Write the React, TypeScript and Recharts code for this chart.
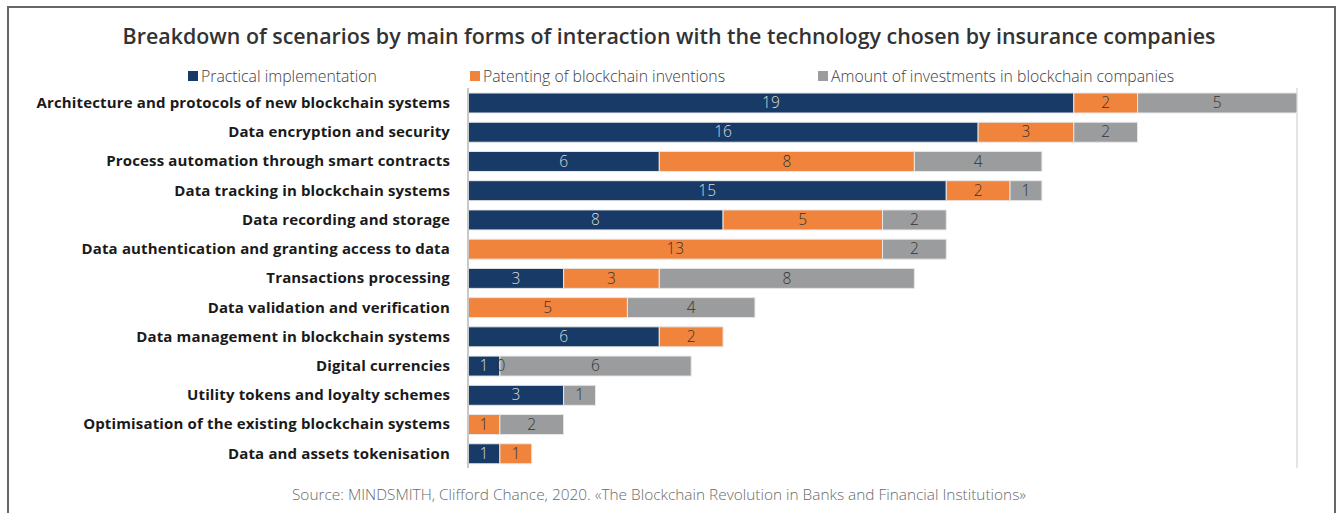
import { Bar, BarChart, CartesianGrid, LabelList, XAxis, YAxis } from 'recharts';

const categories = [
  'Architecture and protocols of new blockchain systems',
  'Data encryption and security',
  'Process automation through smart contracts',
  'Data tracking in blockchain systems',
  'Data recording and storage',
  'Data authentication and granting access to data',
  'Transactions processing',
  'Data validation and verification',
  'Data management in blockchain systems',
  'Digital currencies',
  'Utility tokens and loyalty schemes',
  'Optimisation of the existing blockchain systems',
  'Data and assets tokenisation',
];

// null = blank cell (no label), 0 = an actual zero shown in the source
const practical = [19, 16, 6, 15, 8, null, 3, null, 6, 1, 3, null, 1];
const patenting = [2, 3, 8, 2, 5, 13, 3, 5, 2, 0, null, 1, 1];
const investments = [5, 2, 4, 1, 2, 2, 8, 4, null, 6, 1, 2, null];

const xTicks = [0, 5, 10, 15, 20, 25];

const seriesInfo = [
  { key: 'practical', name: 'Practical implementation', color: '#183a66', text: '#dcdcdc' },
  { key: 'patenting', name: 'Patenting of blockchain inventions', color: '#f0843c', text: '#333333' },
  { key: 'investments', name: 'Amount of investments in blockchain companies', color: '#9a9c9d', text: '#333333' },
];

const rows = categories.map((name, i) => ({
  name,
  practical: practical[i],
  patenting: patenting[i],
  investments: investments[i],
}));

// label list indices skip the blank cells
const investmentRows = rows.filter((r) => r.investments !== null);

const font = '"Open Sans", "Noto Sans", sans-serif';

function labelText(x: number, y: number, value: any, color: string) {
  return (
    <text
      x={x}
      y={y}
      textAnchor="middle"
      dominantBaseline="middle"
      fill={color}
      fontSize={15.5}
      fontWeight={300}
      fontFamily={font}
    >
      {value}
    </text>
  );
}

function makeLabel(key: string, color: string) {
  return (props: any) => {
    const { x, y, width, height, value, index } = props;
    if (value === null || value === undefined) return null;
    const cy = Number(y) + Number(height) / 2 + 1;
    const main = labelText(Number(x) + Number(width) / 2, cy, value, color);
    // a zero-width orange segment has no bar of its own, so its "0" is drawn at the gray bar's start
    const row = props.payload && props.payload.name ? props.payload : investmentRows[index];
    if (key === 'investments' && row && row.patenting === 0) {
      return (
        <g>
          {labelText(Number(x) + 1, cy, 0, '#333333')}
          {main}
        </g>
      );
    }
    return main;
  };
}

export default function App() {
  return (
    <>
      <style>{'html, body { overflow: hidden; }'}</style>
      <div
        style={{
          position: 'fixed',
          top: 6,
          left: 7,
          width: 1325,
          height: 520,
          border: '2px solid #666666',
          pointerEvents: 'none',
          zIndex: 2,
        }}
      />
      <div
        style={{
          position: 'relative',
          width: 1325,
          height: 497,
          margin: '0 0 0 1px',
          background: '#ffffff',
          fontFamily: font,
        }}
      >
        <div
          style={{
            position: 'absolute',
            top: 13,
            left: -1,
            width: 1322,
            textAlign: 'center',
            fontSize: 21.4,
            fontWeight: 600,
            color: '#333333',
            whiteSpace: 'nowrap',
          }}
        >
          Breakdown of scenarios by main forms of interaction with the technology chosen by insurance companies
        </div>

        {seriesInfo.map((s, i) => (
          <div
            key={s.key}
            style={{
              position: 'absolute',
              top: 57,
              left: [179, 461, 809][i],
              display: 'flex',
              alignItems: 'center',
              fontSize: 15.8,
              fontWeight: 300,
              color: '#404040',
              whiteSpace: 'nowrap',
            }}
          >
            <span style={{ width: 10, height: 10, background: s.color, marginRight: 3, display: 'inline-block' }} />
            {s.name}
          </div>
        ))}

        <div style={{ position: 'absolute', top: 80, left: -1 }}>
          <BarChart
            width={1322}
            height={380}
            data={rows}
            layout="vertical"
            margin={{ top: 0, right: 33, left: 0, bottom: 0 }}
            barSize={20}
          >
            <CartesianGrid horizontal={false} stroke="#e4e4e4" strokeWidth={2} />
            <XAxis
              type="number"
              domain={[0, 26]}
              ticks={xTicks}
              tick={false}
              axisLine={false}
              tickLine={false}
              height={0}
            />
            <YAxis
              type="category"
              dataKey="name"
              width={460}
              axisLine={{ stroke: '#c8c8c8', strokeWidth: 2 }}
              tickLine={false}
              tickMargin={12}
              interval={0}
              tick={{ fontSize: 15, fontWeight: 700, fill: '#1a1a1a', fontFamily: font, letterSpacing: 0.15 }}
            />
            {seriesInfo.map((s) => (
              <Bar
                key={s.key}
                dataKey={s.key}
                name={s.name}
                stackId="a"
                fill={s.color}
                stroke="#e8e8e8"
                strokeWidth={1}
                isAnimationActive={false}
              >
                <LabelList dataKey={s.key} content={makeLabel(s.key, s.text)} />
              </Bar>
            ))}
          </BarChart>
        </div>

        <div
          style={{
            position: 'absolute',
            top: 476,
            left: -11,
            width: 1322,
            textAlign: 'center',
            fontSize: 15.4,
            fontWeight: 300,
            color: '#6a6a6a',
            whiteSpace: 'nowrap',
          }}
        >
          Source: MINDSMITH, Clifford Chance, 2020. «The Blockchain Revolution in Banks and Financial Institutions»
        </div>
      </div>
    </>
  );
}
